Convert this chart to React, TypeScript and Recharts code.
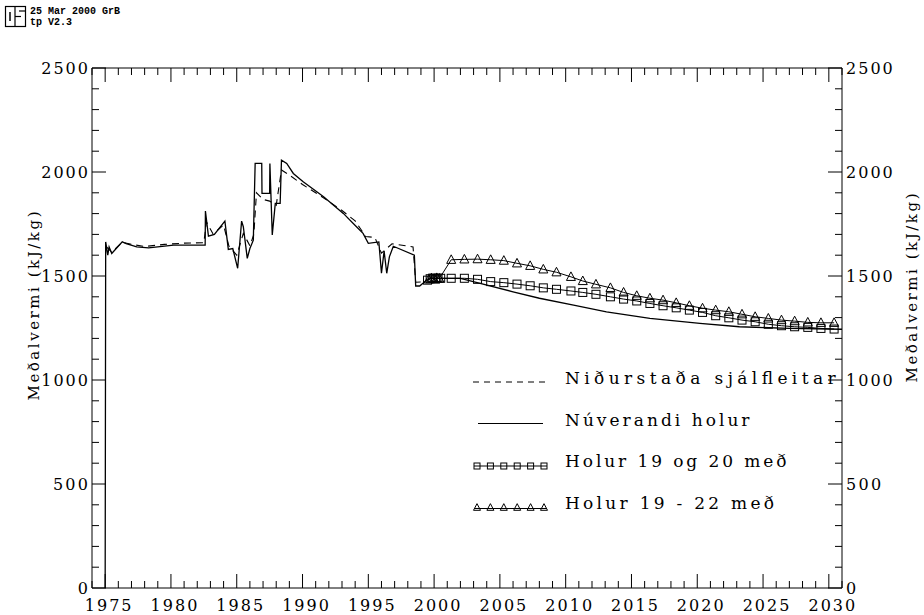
import React from 'react';
import { LineChart, Line, XAxis, YAxis } from 'recharts';

// plot frame (page pixels)
const W = 924;
const H = 615;
const LEFT = 92;
const RIGHT = 842;
const TOP = 68;
const BOTTOM = 588;
const AX = 20; // space reserved by each axis

const yearDomain = [1974, 2031];
const valueDomain = [0, 2500];
const yearTicks = Array.from({ length: 58 }, (_, i) => 1974 + i);
const valueTicks = Array.from({ length: 26 }, (_, i) => i * 100);
const yearLabels = [1975, 1980, 1985, 1990, 1995, 2000, 2005, 2010, 2015, 2020, 2025, 2030];
const valueLabels = [0, 500, 1000, 1500, 2000, 2500];

const axisTitle = 'Meðalvermi (kJ/kg)';
const legendNames = [
  'Niðurstaða sjálfleitar',
  'Núverandi holur',
  'Holur 19 og 20 með',
  'Holur 19 - 22 með',
];

// [year, kJ/kg]
const sjalfleit: [number, number][] = [
  [1975.1, 1640], [1975.5, 1615], [1976.3, 1662], [1977.0, 1652], [1978.0, 1642],
  [1979.5, 1652], [1981.0, 1658], [1982.5, 1660], [1982.7, 1760], [1983.2, 1702],
  [1984.0, 1745], [1984.4, 1645], [1985.0, 1600], [1985.5, 1705], [1986.0, 1645],
  [1986.3, 1700], [1986.5, 1900], [1987.0, 1868], [1987.5, 1860], [1988.0, 1840],
  [1988.4, 2010], [1989.0, 1985], [1990.0, 1940], [1991.5, 1880], [1993.0, 1815],
  [1994.0, 1765], [1994.8, 1690], [1995.5, 1685], [1996.0, 1610], [1996.8, 1655],
  [1998.4, 1640], [1998.6, 1470], [1999.3, 1472],
];

const nuverandi: [number, number][] = [
  [1975.0, 0], [1975.04, 1664], [1975.2, 1600], [1975.3, 1640], [1975.5, 1608],
  [1976.3, 1664], [1976.6, 1656], [1977.4, 1640], [1978.3, 1635], [1980.2, 1648],
  [1982.6, 1648], [1982.62, 1812], [1982.85, 1692], [1983.3, 1700], [1984.1, 1764],
  [1984.36, 1628], [1984.7, 1632], [1985.07, 1537], [1985.37, 1764], [1985.5, 1737],
  [1985.8, 1585], [1986.0, 1632], [1986.26, 1672], [1986.4, 2041], [1986.9, 2041],
  [1986.92, 1897], [1987.5, 1897], [1987.52, 2041], [1987.7, 1697], [1987.93, 1849],
  [1988.3, 1849], [1988.4, 2057], [1988.8, 2041], [1989.3, 1993], [1990.05, 1953],
  [1991.6, 1881], [1993.1, 1801], [1994.1, 1737], [1994.6, 1705], [1995.0, 1657],
  [1995.8, 1664], [1996.0, 1513], [1996.2, 1620], [1996.4, 1513], [1996.6, 1592],
  [1996.9, 1643], [1998.5, 1600], [1998.6, 1452], [1998.9, 1452], [1999.2, 1468],
  [1999.5, 1485], [2000.0, 1489], [2002.0, 1489], [2003.5, 1465], [2006.0, 1424],
  [2008.0, 1393], [2010.6, 1360], [2013.1, 1328], [2016.4, 1296], [2020.2, 1272],
  [2023.2, 1256], [2027.0, 1248], [2031.0, 1244],
];

const holur1920: [number, number][] = [
  [1999.5, 1480], [1999.7, 1487], [1999.9, 1490], [2000.1, 1485], [2000.3, 1490],
  [2000.5, 1489],
  [2001.3, 1489], [2002.3, 1489], [2003.3, 1484], [2004.3, 1473], [2005.3, 1468],
  [2006.3, 1461], [2007.3, 1453], [2008.3, 1443], [2009.3, 1436], [2010.4, 1428],
  [2011.3, 1421], [2012.3, 1412], [2013.4, 1400], [2014.4, 1389], [2015.4, 1380],
  [2016.4, 1368], [2017.4, 1357], [2018.4, 1347], [2019.4, 1336], [2020.4, 1325],
  [2021.4, 1309], [2022.4, 1299], [2023.4, 1288], [2024.4, 1280], [2025.4, 1268],
  [2026.4, 1261], [2027.4, 1256], [2028.4, 1253], [2029.4, 1248], [2030.4, 1245],
];

const holur1922: [number, number][] = [
  [1999.6, 1484], [1999.8, 1490], [2000.0, 1486], [2000.2, 1491], [2000.4, 1488],
  [2001.3, 1578], [2002.3, 1580], [2003.3, 1581], [2004.3, 1578], [2005.3, 1574],
  [2006.3, 1561], [2007.3, 1549], [2008.3, 1532], [2009.3, 1518], [2010.4, 1496],
  [2011.3, 1476], [2012.3, 1460], [2013.4, 1443], [2014.4, 1421], [2015.4, 1405],
  [2016.4, 1393], [2017.4, 1384], [2018.4, 1371], [2019.4, 1357], [2020.4, 1345],
  [2021.4, 1336], [2022.4, 1328], [2023.4, 1316], [2024.4, 1304], [2025.4, 1296],
  [2026.4, 1288], [2027.4, 1283], [2028.4, 1277], [2029.4, 1275], [2030.4, 1275],
];

const toRows = (pts: [number, number][]) => pts.map(([x, y]) => ({ x, y }));

const FONT = 'DejaVu Serif';

const MonoText = ({ x, y, text, cw, size, anchor = 'start', transform }: any) => (
  <text
    x={x}
    y={y}
    fontFamily={FONT}
    fontSize={size}
    textAnchor={anchor}
    textLength={text.length * cw}
    lengthAdjust="spacing"
    transform={transform}
    fill="#000"
  >
    {text}
  </text>
);

const BottomTick = ({ x, payload }: any) => {
  const v = payload.value;
  const major = v % 5 === 0;
  return (
    <g>
      <line x1={x} x2={x} y1={BOTTOM} y2={BOTTOM - (major ? 14 : 7)} stroke="#000" />
      {yearLabels.includes(v) && (
        <MonoText x={x + 3} y={BOTTOM + 23} text={String(v)} cw={11.7} size={16} anchor="middle" />
      )}
    </g>
  );
};

const TopTick = ({ x, payload }: any) => {
  const major = payload.value % 5 === 0;
  return <line x1={x} x2={x} y1={TOP} y2={TOP + (major ? 14 : 7)} stroke="#000" />;
};

const LeftTick = ({ y, payload }: any) => {
  const v = payload.value;
  const major = v % 500 === 0;
  return (
    <g>
      <line x1={LEFT} x2={LEFT + (major ? 14 : 7)} y1={y} y2={y} stroke="#000" />
      {valueLabels.includes(v) && (
        <MonoText x={LEFT - 4} y={y + 6} text={String(v)} cw={11.7} size={16} anchor="end" />
      )}
    </g>
  );
};

const RightTick = ({ y, payload }: any) => {
  const v = payload.value;
  const major = v % 500 === 0;
  return (
    <g>
      <line x1={RIGHT} x2={RIGHT - (major ? 14 : 7)} y1={y} y2={y} stroke="#000" />
      {valueLabels.includes(v) && (
        <MonoText x={RIGHT + 4} y={y + 6} text={String(v)} cw={11.7} size={16} />
      )}
    </g>
  );
};

const Square = ({ cx, cy, s = 8 }: any) => (
  <rect x={cx - s / 2} y={cy - s / 2} width={s} height={s} fill="#fff" fillOpacity={0} stroke="#000" strokeWidth={1} />
);

const Triangle = ({ cx, cy, s = 9 }: any) => (
  <polygon
    points={`${cx},${cy - s * 0.55} ${cx - s / 2},${cy + s * 0.4} ${cx + s / 2},${cy + s * 0.4}`}
    fill="none"
    stroke="#000"
    strokeWidth={1}
  />
);

const Legend = () => {
  const tx = 565;
  const ys = [378, 419.5, 461, 502.5];
  const marks = [0, 1, 2, 3, 4, 5].map((i) => 477 + i * 13.4);
  return (
    <g>
      <line x1={473} x2={545} y1={ys[0] + 4} y2={ys[0] + 4} stroke="#000" strokeDasharray="6 5" />
      <line x1={478} x2={543} y1={ys[1] + 4} y2={ys[1] + 4} stroke="#000" strokeWidth={1.2} />
      <line x1={474} x2={547} y1={ys[2] + 5} y2={ys[2] + 5} stroke="#000" />
      {marks.map((m, i) => (
        <Square key={'s' + i} cx={m} cy={ys[2] + 5} s={6} />
      ))}
      <line x1={474} x2={547} y1={ys[3] + 6} y2={ys[3] + 6} stroke="#000" />
      {marks.map((m, i) => (
        <Triangle key={'t' + i} cx={m} cy={ys[3] + 5} s={7} />
      ))}
      {legendNames.map((n, i) => (
        <MonoText key={n} x={tx} y={ys[i] + 6} text={n} cw={12.3} size={17} />
      ))}
    </g>
  );
};

const Header = () => (
  <g>
    <rect x={5.5} y={6.5} width={20} height={20} fill="none" stroke="#000" strokeWidth={1.2} />
    <line x1={15} x2={15} y1={6.5} y2={26.5} stroke="#000" strokeWidth={1.2} />
    <line x1={10} x2={10} y1={12} y2={21} stroke="#000" strokeWidth={1.5} />
    <line x1={15} x2={21} y1={16.5} y2={16.5} stroke="#000" strokeWidth={1.2} />
    <line x1={19} x2={25.5} y1={11} y2={11} stroke="#000" strokeWidth={1.2} />
    <text x={30} y={14} fontFamily="Liberation Mono" fontWeight="bold" fontSize={10}>25 Mar 2000 GrB</text>
    <text x={30} y={24.5} fontFamily="Liberation Mono" fontWeight="bold" fontSize={10}>tp V2.3</text>
  </g>
);

export default function App() {
  return (
    <div style={{ position: 'absolute', left: 0, top: 0, width: W, height: H, background: '#fff' }}>
      <LineChart
        width={W}
        height={H}
        margin={{ top: TOP - AX, right: W - RIGHT - AX, bottom: H - BOTTOM - AX, left: LEFT - AX }}
      >
        <XAxis
          xAxisId="b"
          type="number"
          dataKey="x"
          domain={yearDomain}
          ticks={yearTicks}
          interval={0}
          height={AX}
          allowDataOverflow
          axisLine={{ stroke: '#000' }}
          tickLine={false}
          tick={(p: any) => <BottomTick {...p} />}
        />
        <XAxis
          xAxisId="t"
          orientation="top"
          type="number"
          dataKey="x"
          domain={yearDomain}
          ticks={yearTicks}
          interval={0}
          height={AX}
          allowDataOverflow
          axisLine={{ stroke: '#000' }}
          tickLine={false}
          tick={(p: any) => <TopTick {...p} />}
        />
        <YAxis
          yAxisId="l"
          type="number"
          domain={valueDomain}
          ticks={valueTicks}
          interval={0}
          width={AX}
          allowDataOverflow
          axisLine={{ stroke: '#000' }}
          tickLine={false}
          tick={(p: any) => <LeftTick {...p} />}
        />
        <YAxis
          yAxisId="r"
          orientation="right"
          type="number"
          domain={valueDomain}
          ticks={valueTicks}
          interval={0}
          width={AX}
          allowDataOverflow
          axisLine={{ stroke: '#000' }}
          tickLine={false}
          tick={(p: any) => <RightTick {...p} />}
        />
        <Line
          xAxisId="b"
          yAxisId="l"
          data={toRows(sjalfleit)}
          dataKey="y"
          type="linear"
          stroke="#000"
          strokeWidth={1.1}
          strokeDasharray="7 5"
          dot={false}
          isAnimationActive={false}
        />
        <Line
          xAxisId="b"
          yAxisId="l"
          data={toRows(nuverandi)}
          dataKey="y"
          type="linear"
          stroke="#000"
          strokeWidth={1.3}
          dot={false}
          isAnimationActive={false}
        />
        <Line
          xAxisId="b"
          yAxisId="l"
          data={toRows(holur1920)}
          dataKey="y"
          type="linear"
          stroke="#000"
          strokeWidth={1}
          dot={(p: any) => <Square key={'sq' + p.index} cx={p.cx} cy={p.cy} />}
          isAnimationActive={false}
        />
        <Line
          xAxisId="b"
          yAxisId="l"
          data={toRows(holur1922)}
          dataKey="y"
          type="linear"
          stroke="#000"
          strokeWidth={1}
          dot={(p: any) => <Triangle key={'tr' + p.index} cx={p.cx} cy={p.cy} />}
          isAnimationActive={false}
        />
      </LineChart>
      <svg
        width={W}
        height={H}
        style={{ position: 'absolute', left: 0, top: 0, pointerEvents: 'none' }}
      >
        <Header />
        <Legend />
        <MonoText x={0} y={0} text={axisTitle} cw={10.5} size={15} anchor="middle" transform="translate(39 306) rotate(-90)" />
        <MonoText x={0} y={0} text={axisTitle} cw={10.5} size={15} anchor="middle" transform="translate(917 288) rotate(-90)" />
      </svg>
    </div>
  );
}
